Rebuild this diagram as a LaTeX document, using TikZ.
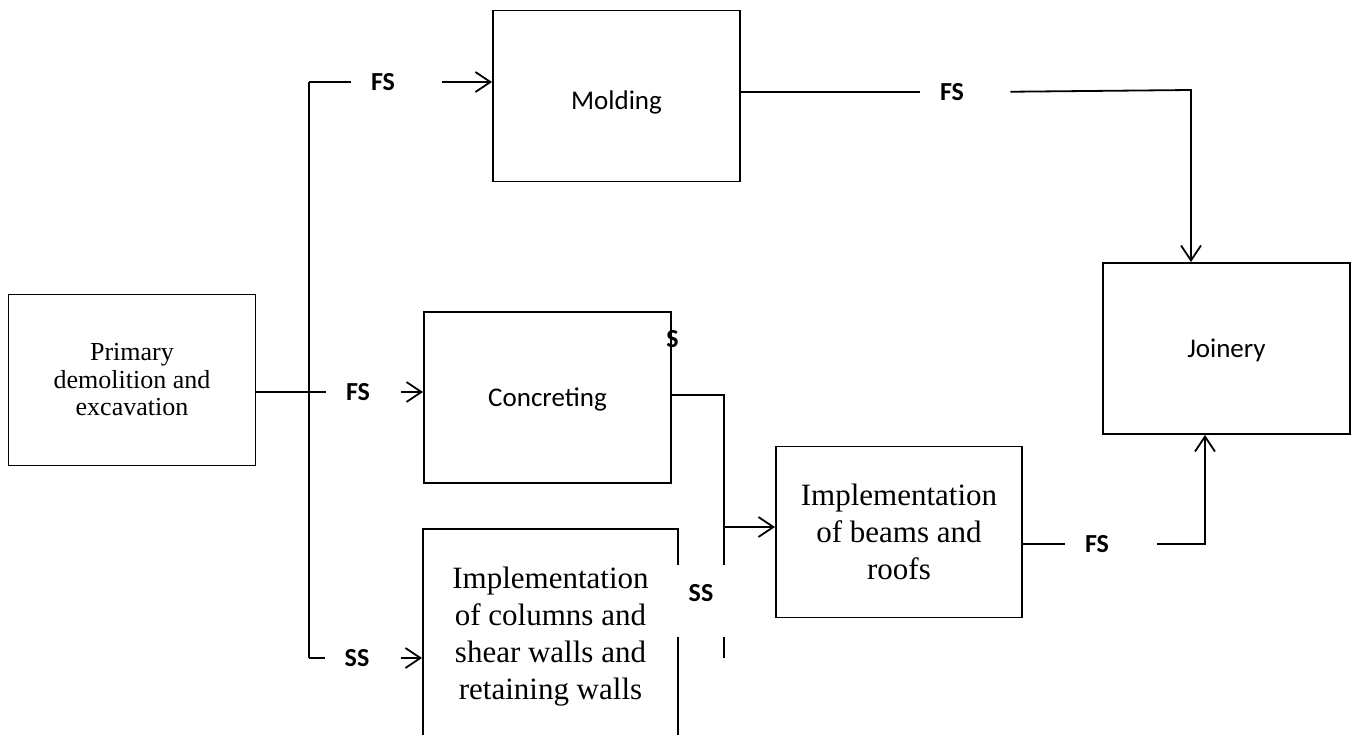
\documentclass[tikz,border=0pt]{standalone}
\usepackage{fontspec}
\setmainfont{Liberation Serif}
\newfontfamily\calibri{Carlito}
\usetikzlibrary{arrows.meta}

\begin{document}
\begin{tikzpicture}[line width=1.8pt,
	box/.style={rectangle, draw=black, minimum width=247pt, minimum height=171pt, inner sep=0pt, align=center},
	serifbig/.style={font=\fontsize{31}{37}\selectfont},
	serifmid/.style={font=\fontsize{26}{27.5}\selectfont},
	sansbox/.style={font=\calibri\fontsize{27}{30}\selectfont, text height=23pt, text depth=5pt},
	rel/.style={font=\calibri\bfseries\fontsize{26}{28}\selectfont, inner xsep=19pt, inner ysep=2pt},
	>={Straight Barb[length=15pt,width=20pt]}
]%page 1353 x 735, y grows downwards
\useasboundingbox (0pt,0pt) rectangle (1353pt,-735pt);
\clip (0pt,0pt) rectangle (1353pt,-735pt);
\node (prim) [box, serifmid] at (132pt,-380pt) {Primary\\demolition and\\excavation};
\node (mold) [box, sansbox, text height=31pt, text depth=4pt] at (616.5pt,-96pt) {Molding};
\node (conc) [box, sansbox, fill=white] at (547.5pt,-397.5pt) {Concreting};
\node (cols) [box, serifbig, minimum width=255pt, minimum height=216pt] at (550.5pt,-637pt) {Implementation\\of columns and\\shear walls and\\retaining walls};
\node (beams) [box, serifbig, minimum width=246pt] at (899pt,-532pt) {Implementation\\of beams and\\roofs};
\node (join) [box, sansbox] at (1226.5pt,-348.5pt) {Joinery};
\node (fs0) [rel, inner xsep=0pt] at (672.5pt,-339pt) {S};
\node (fs1) [rel] at (383pt,-82pt) {FS};
\node (fs2) [rel] at (358pt,-392pt) {FS};
\node (ss1) [rel] at (357pt,-658pt) {SS};
\node (fs3) [rel] at (952pt,-92pt) {FS};
\node (fs4) [rel] at (1097pt,-544pt) {FS};
\coordinate (tTop) at (309pt,-82pt);
\coordinate (tBot) at (309pt,-658pt);
\coordinate (cTop) at (724pt,-395pt);
\coordinate (cBot) at (724pt,-658pt);
\coordinate (cMid) at (724pt,-527pt);
\coordinate (jTop) at (1191pt,-90pt);
\coordinate (jBot) at (1205pt,-544pt);
\draw (tTop) -- (tBot);
\draw (tTop) -- (fs1.west);
\draw[->, shorten <=27.5pt] (fs1.east) -- (fs1 -| mold.west);
\draw (prim.east |- fs2) -- (fs2.west);
\draw[->, shorten <=11.5pt] (fs2.east) -- (fs2 -| conc.west);
\draw (tBot) -- (ss1.west);
\draw[->, shorten <=11.5pt] (ss1.east) -- (ss1 -| cols.west);
\draw (mold.east |- fs3) -- (fs3.west);
\draw[->, shorten <=26.5pt] (fs3.east) -- (jTop) -- (jTop |- join.north);
\draw (beams.east |- fs4) -- (fs4.west);
\draw[->, shorten <=28.5pt] (fs4.east) -- (jBot) -- (jBot |- join.south);
\draw (conc.east |- cTop) -- (cTop) -- (cBot);
\draw[->] (cMid) -- (cMid -| beams.west);
\node (ss2) [rel, fill=white, inner xsep=0pt, minimum width=52pt, minimum height=72pt, text height=10pt, text depth=10pt] at (701pt,-601pt) {SS};
\end{tikzpicture}
\end{document}
